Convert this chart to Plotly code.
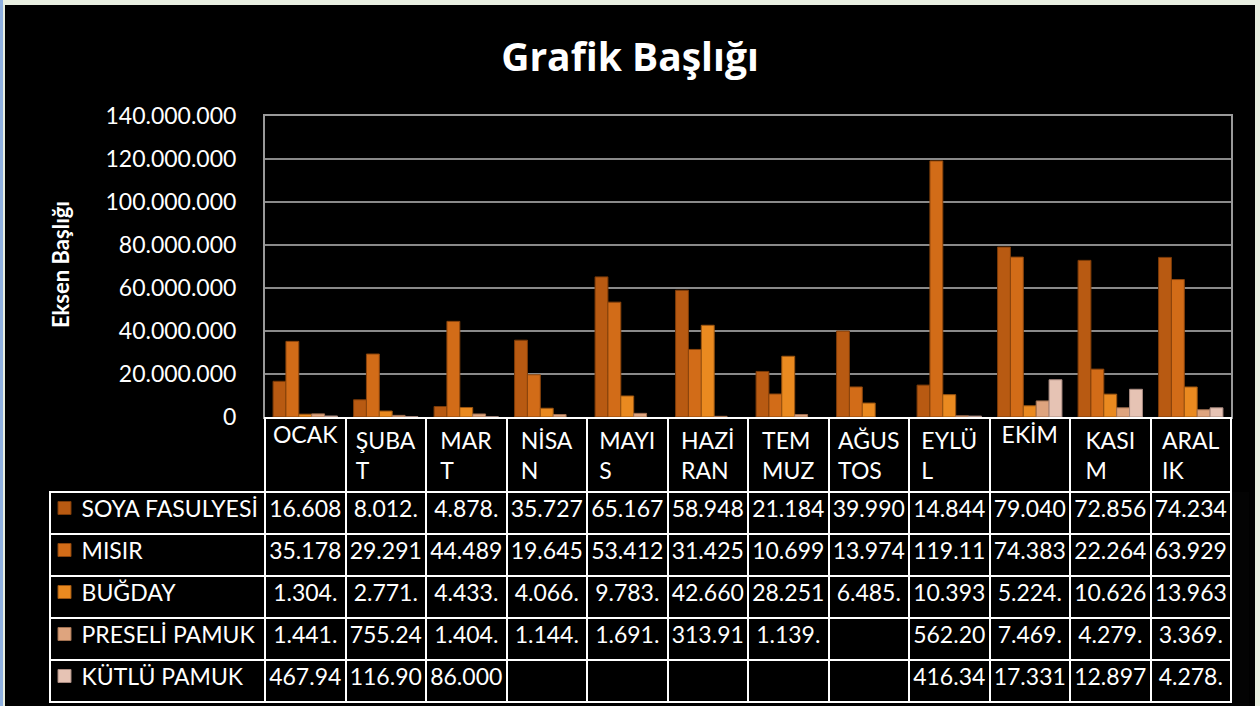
import plotly.graph_objects as go

months = ["OCAK", "ŞUBAT", "MART", "NİSAN", "MAYIS", "HAZİRAN", "TEMMUZ",
          "AĞUSTOS", "EYLÜL", "EKİM", "KASIM", "ARALIK"]
month_labels = ["OCAK", "ŞUBA<br>T", "MAR<br>T", "NİSA<br>N", "MAYI<br>S", "HAZİ<br>RAN",
                "TEM<br>MUZ", "AĞUS<br>TOS", "EYLÜ<br>L", "EKİM", "KASI<br>M", "ARAL<br>IK"]

series_names = ["SOYA FASULYESİ", "MISIR", "BUĞDAY", "PRESELİ PAMUK", "KÜTLÜ PAMUK"]

soya = [16608000, 8012000, 4878000, 35727000, 65167000, 58948000, 21184000,
        39990000, 14844000, 79040000, 72856000, 74234000]
misir = [35178000, 29291000, 44489000, 19645000, 53412000, 31425000, 10699000,
         13974000, 119110000, 74383000, 22264000, 63929000]
bugday = [1304000, 2771000, 4433000, 4066000, 9783000, 42660000, 28251000,
          6485000, 10393000, 5224000, 10626000, 13963000]
preseli = [1441000, 755240, 1404000, 1144000, 1691000, 313910, 1139000,
           None, 562200, 7469000, 4279000, 3369000]
kutlu = [467940, 116900, 86000, None, None, None, None,
         None, 416340, 17331000, 12897000, 4278000]

series_values = [soya, misir, bugday, preseli, kutlu]
colors = ["#b85a12", "#d26c18", "#ea8a20", "#dea47e", "#e6c3b4"]
line_colors = ["#7a3a08", "#8a440c", "#9a5410", "#a07050", "#a88a80"]

y_ticks = [0, 20000000, 40000000, 60000000, 80000000, 100000000, 120000000, 140000000]

FONT = "Lato"


def fmt(v):
    if v is None:
        return ""
    s = f"{int(round(v)):,}".replace(",", ".")
    return s[:6]


fig = go.Figure()

for name, vals, c, lc in zip(series_names, series_values, colors, line_colors):
    fig.add_trace(go.Bar(
        x=months, y=vals, name=name,
        marker=dict(color=c, line=dict(color=lc, width=1)),
        showlegend=False,
    ))

W, H = 1260, 706
left_px, right_px = 265, 1231
tbl_left, tbl_top = 50, 418
head_h, row_h = 71, 42

# non-breaking spaces keep every series name on one line
name_col = ["\u00a0\u00a0\u00a0\u00a0" + n.replace(" ", "\u00a0") for n in series_names]
cols = [name_col]
for i in range(len(months)):
    cols.append([fmt(s[i]) for s in series_values])

fig.add_trace(go.Table(
    domain=dict(x=[tbl_left / W, right_px / W], y=[0, 1 - tbl_top / H]),
    columnwidth=[left_px - tbl_left] + [(right_px - left_px) / 12] * 12,
    header=dict(
        values=[""] + month_labels,
        fill_color=["rgba(0,0,0,0)"] + ["black"] * 12,
        line=dict(color=["rgba(0,0,0,0)"] + ["white"] * 12, width=2),
        font=dict(family=FONT, size=23, color="white"),
        align="center",
        height=head_h,
    ),
    cells=dict(
        values=cols,
        fill_color="black",
        line=dict(color="white", width=2),
        font=dict(family=FONT, size=23, color="white"),
        align=["left"] + ["center"] * 12,
        height=row_h,
    ),
))

# legend keys (small squares) inside the table's first column
shapes = [
    dict(type="rect", xref="paper", yref="paper", x0=5 / W, x1=1255 / W,
         y0=0, y1=1 - 5 / H, fillcolor="black", line=dict(width=0), layer="below"),
    dict(type="rect", xref="paper", yref="paper", x0=0, x1=3 / W,
         y0=0, y1=1, fillcolor="#8fb0e0", line=dict(width=0), layer="below"),
]
for i, (c, lc) in enumerate(zip(colors, line_colors)):
    yc = tbl_top + head_h + row_h * i + row_h / 2 - 2
    shapes.append(dict(
        type="rect", xref="paper", yref="paper",
        x0=58 / W, x1=71 / W, y0=1 - (yc + 6.5) / H, y1=1 - (yc - 6.5) / H,
        fillcolor=c, line=dict(color=lc, width=1), layer="above"))

fig.update_layout(
    width=W, height=H,
    margin=dict(l=0, r=0, t=0, b=0),
    paper_bgcolor="#e9efe1",
    plot_bgcolor="#404040",
    separators=",.",
    barmode="group",
    bargap=0.2,
    bargroupgap=0,
    title=dict(text="<b>Grafik Başlığı</b>", x=0.5, xanchor="center",
               y=1 - 57 / H, yanchor="middle",
               font=dict(family="Open Sans", size=39, color="white")),
    xaxis=dict(domain=[left_px / W, right_px / W], showticklabels=False,
               showgrid=False, zeroline=False, showline=True, linecolor="#9a9a9a",
               linewidth=2, mirror=True, range=[-0.5, 11.5], automargin=False),
    yaxis=dict(domain=[1 - 417 / H, 1 - 116 / H], range=[0, 140000000],
               tickvals=y_ticks, tickformat=",d", automargin=False,
               showgrid=True, gridcolor="#8a8a8a", gridwidth=2,
               zeroline=False, showline=True, linecolor="#9a9a9a", linewidth=2,
               mirror=True, ticks="", ticklabelstandoff=22,
               tickfont=dict(family=FONT, size=23, color="white")),
    shapes=shapes,
    annotations=[
        dict(text="<b>Eksen Başlığı</b>", xref="paper", yref="paper",
             x=60 / W, y=1 - 265 / H, textangle=-90, showarrow=False,
             xanchor="center", yanchor="middle",
             font=dict(family=FONT, size=22, color="white")),
    ],
)

fig.write_html("out.html", config={"displayModeBar": False},
               post_script="document.body.style.margin='0';")
